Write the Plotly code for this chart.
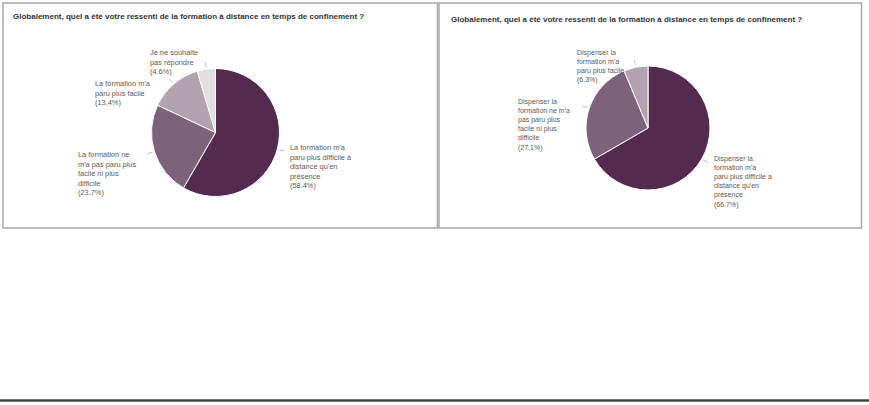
import math
import plotly.graph_objects as go

# ---- data ----
title_text = "Globalement, quel a été votre ressenti de la formation à distance en temps de confinement ?"

left_labels = [
    "La formation m'a<br>paru plus difficile à<br>distance qu'en<br>présence",
    "La formation ne<br>m'a pas paru plus<br>facile ni plus<br>difficile",
    "La formation m'a<br>paru plus facile",
    "Je ne souhaite<br>pas répondre",
]
left_values = [58.4, 23.7, 13.4, 4.6]

right_labels = [
    "Dispenser la<br>formation m'a<br>paru plus difficile à<br>distance qu'en<br>présence",
    "Dispenser la<br>formation ne m'a<br>pas paru plus<br>facile ni plus<br>difficile",
    "Dispenser la<br>formation m'a<br>paru plus facile",
]
right_values = [66.7, 27.1, 6.3]

left_colors = ["#552a50", "#7e6279", "#b3a3b0", "#e2dfe1"]
right_colors = ["#552a50", "#7e6279", "#b3a3b0"]

W, H = 869, 405

# pie geometry (pixels)
left_c, left_r = (215.5, 132.5), 64
right_c, right_r = (648, 128), 62

# label anchor positions (pixels, top-left of text)
left_label_pos = [(288, 141), (76, 148), (93, 77), (148, 46)]
right_label_pos = [(712, 153), (516, 96), (575, 47)]


def domain(c, r):
    cx, cy = c
    return dict(x=[(cx - r) / W, (cx + r) / W], y=[(H - cy - r) / H, (H - cy + r) / H])


fig = go.Figure()
for vals, labs, cols, c, r in [
    (left_values, left_labels, left_colors, left_c, left_r),
    (right_values, right_labels, right_colors, right_c, right_r),
]:
    fig.add_trace(go.Pie(
        values=vals, labels=[l.replace("<br>", " ") for l in labs],
        sort=False, direction="clockwise", rotation=0,
        marker=dict(colors=cols, line=dict(color="white", width=1)),
        textinfo="none", hoverinfo="label+percent", showlegend=False,
        domain=domain(c, r),
    ))

shapes = []
annotations = []


def px(x, y):
    return x / W, 1 - y / H


# leader lines + labels
for vals, labs, c, r, pos, fs in [
    (left_values, left_labels, left_c, left_r, left_label_pos, 7.4),
    (right_values, right_labels, right_c, right_r, right_label_pos, 7),
]:
    total = sum(vals)
    cum = 0
    for v, lab, (lx, ly) in zip(vals, labs, pos):
        mid = (cum + v / 2) / total * 2 * math.pi
        cum += v
        s, co = math.sin(mid), math.cos(mid)
        x0, y0 = c[0] + (r + 2) * s, c[1] - (r + 2) * co
        x1, y1 = c[0] + (r + 7) * s, c[1] - (r + 7) * co
        shapes.append(dict(type="line", xref="paper", yref="paper",
                           x0=x0 / W, y0=1 - y0 / H, x1=x1 / W, y1=1 - y1 / H,
                           line=dict(color="#c8bcc6", width=1)))
        ax, ay = px(lx, ly)
        annotations.append(dict(
            text=f"{lab}<br>({v:.1f}%)", x=ax, y=ay, xref="paper", yref="paper",
            xanchor="left", yanchor="top", align="left", showarrow=False,
            font=dict(family="Liberation Sans, Arial", size=fs, color="#5a5a5a"),
        ))

# titles
for tx, ty in [(11, 17), (449, 19)]:
    ax, ay = px(tx, ty)
    annotations.append(dict(
        text=f"<b>{title_text}</b>", x=ax, y=ay, xref="paper", yref="paper",
        xanchor="left", yanchor="middle", showarrow=False,
        font=dict(family="Liberation Sans, Arial", size=8, color="#333333"),
    ))

# panel boxes
for x0, x1 in [(3, 437.5), (439, 861.5)]:
    shapes.append(dict(type="rect", xref="paper", yref="paper",
                       x0=x0 / W, x1=x1 / W, y0=1 - 228 / H, y1=1 - 3 / H,
                       line=dict(color="#a8a8a8", width=1.5), fillcolor="rgba(0,0,0,0)"))

# bottom rule
shapes.append(dict(type="line", xref="paper", yref="paper",
                   x0=0, x1=1, y0=1 - 400.5 / H, y1=1 - 400.5 / H,
                   line=dict(color="#444444", width=2.5)))

fig.update_layout(
    width=W, height=H, margin=dict(l=0, r=0, t=0, b=0),
    paper_bgcolor="white", plot_bgcolor="white",
    shapes=shapes, annotations=annotations,
)

fig.write_html(
    "out.html",
    config={"displayModeBar": False},
    post_script="document.body.style.margin='0';document.body.style.overflow='hidden';",
)
